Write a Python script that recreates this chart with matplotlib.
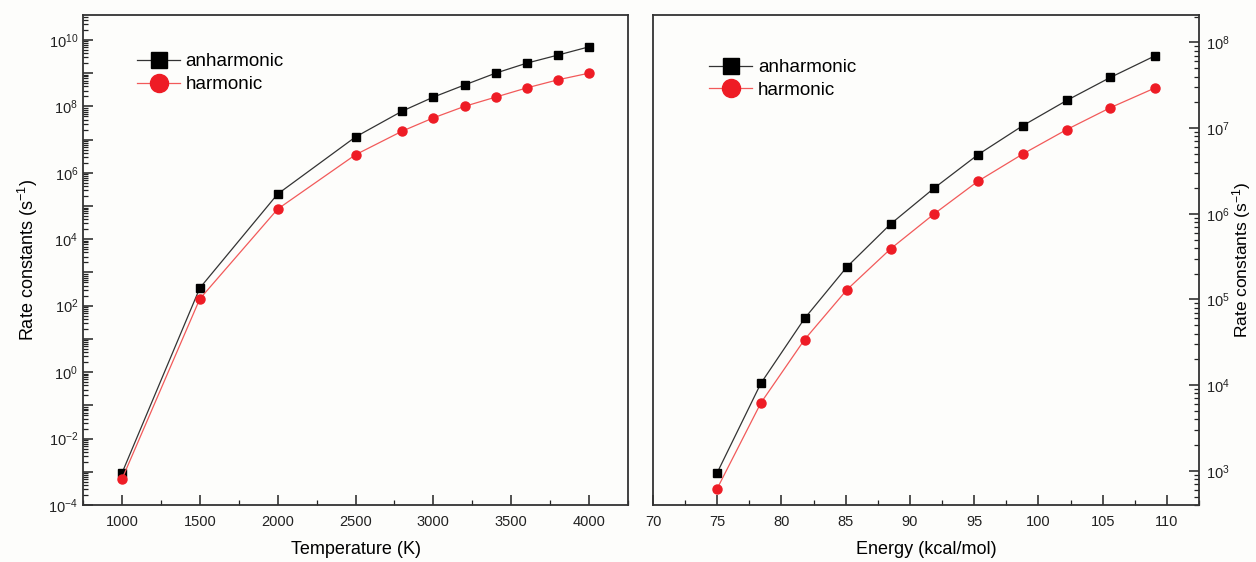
import numpy as np
import matplotlib
matplotlib.use('Agg')
import matplotlib.pyplot as plt
from matplotlib.ticker import MultipleLocator, LogLocator, FuncFormatter, NullFormatter

plt.rcParams['font.family'] = ['Liberation Sans', 'DejaVu Sans']
plt.rcParams['mathtext.fontset'] = 'custom'
plt.rcParams['mathtext.rm'] = 'Liberation Sans'
plt.rcParams['mathtext.it'] = 'Liberation Sans:italic'

# LEFT PANEL DATA - rate constants vs temperature
temp = [1000, 1500, 2000, 2500, 2800, 3000, 3200, 3400, 3600, 3800, 4000]
k_anh_T = [9.1e-4, 3.4e2, 2.3e5, 1.2e7, 7.2e7, 1.9e8, 4.4e8, 1.0e9, 2.0e9, 3.5e9, 6.2e9]
k_har_T = [6.0e-4, 1.6e2, 8.1e4, 3.5e6, 1.8e7, 4.5e7, 1.0e8, 1.9e8, 3.6e8, 6.3e8, 1.0e9]

# RIGHT PANEL DATA - rate constants vs energy
energy = [75.0, 78.4, 81.8, 85.1, 88.5, 91.9, 95.3, 98.8, 102.2, 105.6, 109.1]
k_anh_E = [9.5e2, 1.05e4, 6.0e4, 2.4e5, 7.6e5, 2.0e6, 4.9e6, 1.07e7, 2.1e7, 3.9e7, 7.0e7]
k_har_E = [6.2e2, 6.2e3, 3.4e4, 1.3e5, 3.9e5, 1.0e6, 2.4e6, 5.0e6, 9.6e6, 1.73e7, 2.95e7]

labels = ['anharmonic', 'harmonic']

bg = '#fdfdfb'
fig = plt.figure(figsize=(12.56, 5.62), dpi=100, facecolor=bg)
ax1 = fig.add_axes([0.0661, 0.1014, 0.4339, 0.8719], facecolor=bg)
ax2 = fig.add_axes([0.5199, 0.1014, 0.4347, 0.8719], facecolor=bg)


def draw(ax, x, ya, yh):
    ax.plot(x, ya, color='#333333', lw=0.9, marker='s', ms=6, mfc='black', mec='black', label=labels[0])
    ax.plot(x, yh, color='#f25a5a', lw=0.9, marker='o', ms=6.5, mfc='#ee1c25', mec='#ee1c25', label=labels[1])
    ax.set_yscale('log')
    for s in ax.spines.values():
        s.set_linewidth(1.3)
        s.set_color('#333333')
    ax.tick_params(which='both', direction='in', colors='#222222', labelsize=10.5, width=1.1)
    ax.tick_params(which='major', length=7)
    ax.tick_params(which='minor', length=3.5, width=0.9)
    ax.tick_params(axis='x', pad=7)


def log_lab(v, p):
    e = int(round(np.log10(v)))
    return r'$\mathdefault{10^{%d}}$' % e


def log_lab_even(v, p):
    e = int(round(np.log10(v)))
    if e % 2:
        return ''
    return r'$\mathdefault{10^{%d}}$' % e


# LEFT
draw(ax1, temp, k_anh_T, k_har_T)
ax1.set_xlim(750, 4250)
ax1.set_ylim(1e-4, 10 ** 10.75)
ax1.xaxis.set_major_locator(MultipleLocator(500))
ax1.xaxis.set_minor_locator(MultipleLocator(250))
ax1.yaxis.set_major_locator(LogLocator(base=10, numticks=30))
ax1.yaxis.set_major_formatter(FuncFormatter(log_lab_even))
ax1.yaxis.set_minor_locator(LogLocator(base=10, subs=np.arange(2, 10), numticks=30))
ax1.yaxis.set_minor_formatter(NullFormatter())
ax1.tick_params(top=False, right=False)
ax1.set_xlabel('Temperature (K)', fontsize=13, labelpad=9)
ax1.set_ylabel('Rate constants (s$^{-1}$)', fontsize=13, labelpad=6)
ax1.legend(loc='upper left', bbox_to_anchor=(0.099, 0.922), frameon=False, fontsize=13.5,
           markerscale=2, handlelength=2.3, handletextpad=0.3, labelspacing=0.3,
           borderpad=0, borderaxespad=0)

# RIGHT
draw(ax2, energy, k_anh_E, k_har_E)
ax2.set_xlim(70, 112.5)
ax2.set_ylim(10 ** 2.6, 10 ** 8.32)
ax2.xaxis.set_major_locator(MultipleLocator(5))
ax2.xaxis.set_minor_locator(MultipleLocator(2.5))
ax2.yaxis.set_major_locator(LogLocator(base=10, numticks=30))
ax2.yaxis.set_major_formatter(FuncFormatter(log_lab))
ax2.yaxis.set_minor_locator(LogLocator(base=10, subs=np.arange(2, 10), numticks=30))
ax2.yaxis.set_minor_formatter(NullFormatter())
ax2.yaxis.tick_right()
ax2.yaxis.set_label_position('right')
ax2.tick_params(axis='y', which='both', left=False, right=True, labelleft=False, labelright=True, pad=5)
ax2.set_xlabel('Energy (kcal/mol)', fontsize=13, labelpad=9)
ax2.set_ylabel('Rate constants (s$^{-1}$)', fontsize=12.5, labelpad=0)
ax2.legend(loc='upper left', bbox_to_anchor=(0.1026, 0.91), frameon=False, fontsize=13.5,
           markerscale=2, handlelength=2.3, handletextpad=0.3, labelspacing=0.3,
           borderpad=0, borderaxespad=0)

fig.savefig('out.png', dpi=100, facecolor=bg)
